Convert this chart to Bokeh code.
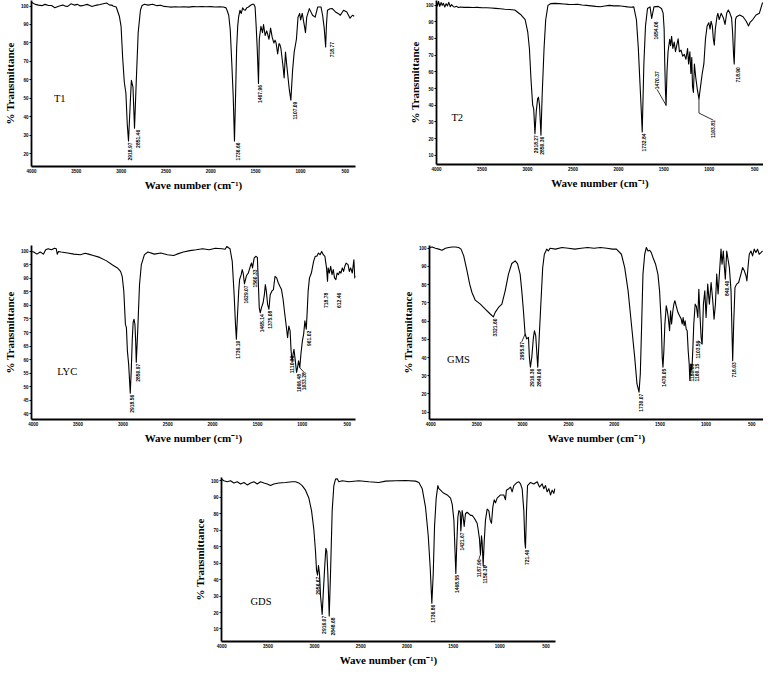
import numpy as np
from bokeh.plotting import figure
from bokeh.models import Range1d, FixedTicker, Spacer
from bokeh.layouts import row, column
from bokeh.embed import file_html
from bokeh.resources import INLINE
from bokeh.core.properties import value

# ---------------- data ----------------
X_TICKS = [4000, 3500, 3000, 2500, 2000, 1500, 1000, 500]

T1_SPECTRUM = [
    (4000, 102.1), (3957, 100.9), (3921, 100.5), (3885, 100.2), (3849, 100.9), (3810, 100.3),
    (3776, 100.3), (3740, 99.1), (3704, 99.8), (3680, 100.2), (3650, 100.5), (3620, 99.9),
    (3596, 99.8), (3560, 101.2), (3524, 100.5), (3488, 100.9), (3460, 100.1), (3434, 100.2),
    (3405, 100.6), (3380, 100.9), (3350, 100.3), (3325, 99.8), (3300, 100.2), (3271, 100.5),
    (3235, 100.8), (3199, 101.2), (3163, 101.6), (3127, 100.5), (3105, 100.6), (3091, 100),
    (3055, 99.5), (3019, 94.3), (3001, 89), (2983, 71.8), (2965, 58.8), (2947, 52.7),
    (2932, 36), (2918, 26.8), (2900, 45.8), (2886, 59.7), (2868, 56), (2851, 33.7),
    (2831, 59.7), (2810, 85.6), (2785, 97.7), (2767, 100.3), (2740, 101), (2700, 100.5),
    (2650, 101), (2600, 100.2), (2560, 100.4), (2520, 99.8), (2480, 99.6), (2440, 99.4),
    (2400, 99.6), (2350, 99.5), (2300, 99.6), (2250, 99.4), (2200, 99.7), (2150, 99.6),
    (2100, 99.7), (2050, 99.6), (2000, 99.7), (1950, 99.5), (1900, 99.6), (1860, 99.5),
    (1830, 99), (1819, 97.7), (1800, 95), (1783, 87), (1765, 68), (1750, 51), (1736, 26.8),
    (1724, 51), (1712, 77), (1700, 89), (1690, 94), (1675, 97.7), (1660, 96), (1645, 99),
    (1630, 98), (1615, 97.7), (1600, 99), (1580, 99.5), (1560, 100.3), (1535, 101),
    (1520, 101), (1506, 99.5), (1495, 90), (1483, 78), (1468, 58), (1459, 82), (1441, 89),
    (1423, 85.6), (1412, 90), (1394, 84), (1376, 86.5), (1351, 82), (1333, 88), (1315, 83),
    (1297, 80), (1283, 81.5), (1272, 80), (1254, 74), (1240, 79.5), (1232, 79.5), (1218, 77),
    (1196, 68), (1182, 61), (1167, 75), (1153, 68), (1124, 54.5), (1107, 49), (1088, 65),
    (1070, 75), (1045, 82), (1027, 94), (1009, 96), (998, 92.5), (980, 96), (955, 89),
    (944, 85.6), (930, 94), (901, 98.6), (865, 95), (836, 94), (807, 99.5), (771, 99.5),
    (753, 95), (735, 88), (719, 77.8), (710, 90), (699, 97.7), (670, 98.5), (645, 98.6),
    (609, 96.8), (580, 96), (555, 95), (519, 97.7), (483, 96.8), (447, 93.4), (420, 95),
    (400, 94.5),
]
T1_PEAK_WN = [2918, 2851, 1736, 1468, 1107, 719]
T1_PEAK_TXT = ["2918.97", "2851.46", "1736.66", "1467.96", "1107.09", "718.77"]
T1_YTICKS = [20, 30, 40, 50, 60, 70, 80, 90, 100]

T2_SPECTRUM = [
    (4000, 101.7), (3990, 99.5), (3978, 102.2), (3965, 99.2), (3950, 101.5), (3938, 99.8),
    (3925, 101), (3910, 98.8), (3895, 100.8), (3880, 99.5), (3866, 101.6), (3850, 99),
    (3835, 100.2), (3815, 99), (3800, 98.8), (3780, 99.2), (3760, 98.5), (3740, 98.8),
    (3700, 98.6), (3650, 98.7), (3600, 98.5), (3550, 98.6), (3500, 98.4), (3450, 98.4),
    (3400, 98.2), (3350, 98), (3300, 97.8), (3250, 97.5), (3200, 97.3), (3140, 97),
    (3069, 94), (3026, 91.3), (2997, 83.7), (2979, 74), (2961, 55), (2943, 40), (2932, 38),
    (2918, 23), (2904, 36), (2889, 43.8), (2879, 44.8), (2868, 40), (2852, 22), (2839, 45.7),
    (2818, 74), (2800, 91), (2775, 99.8), (2746, 100.8), (2700, 101), (2650, 100.8),
    (2600, 100.6), (2550, 100.4), (2500, 100.3), (2450, 100.5), (2400, 100), (2350, 99.8),
    (2300, 99.5), (2250, 99.2), (2200, 99), (2150, 99.4), (2100, 99.8), (2050, 99.5),
    (2000, 99.6), (1950, 99.3), (1900, 98.9), (1860, 98.7), (1831, 98.9), (1802, 91.3),
    (1781, 74.2), (1763, 53.3), (1748, 36.2), (1738, 24), (1731, 40), (1720, 64.7),
    (1702, 87.5), (1680, 97.9), (1652, 98.9), (1634, 92), (1609, 98.9), (1562, 99.2),
    (1526, 97.9), (1508, 95.1), (1497, 85.6), (1490, 64.7), (1483, 49.5), (1476, 40),
    (1465, 60.8), (1454, 72), (1436, 79.5), (1426, 75.7), (1415, 81.3), (1401, 74),
    (1386, 77.8), (1372, 72), (1358, 76), (1343, 79.8), (1329, 72), (1311, 73), (1293, 69.4),
    (1275, 70.4), (1257, 67.5), (1239, 74), (1228, 64.7), (1214, 72), (1203, 59),
    (1193, 68.5), (1185, 51.4), (1175, 47.6), (1164, 64.7), (1150, 57), (1132, 49.5),
    (1114, 43.8), (1096, 51.4), (1078, 59), (1060, 64.7), (1042, 79.8), (1024, 87.5),
    (1006, 89.4), (992, 85.6), (981, 90.3), (967, 87.5), (956, 79.8), (945, 76), (934, 85.6),
    (916, 93), (906, 95), (891, 91.3), (870, 95), (845, 92.2), (827, 88.4), (809, 95),
    (791, 97), (773, 95), (755, 92.2), (744, 83.7), (733, 70), (726, 64.7), (712, 91.3),
    (701, 93), (665, 94), (629, 93), (594, 90.3), (568, 87.5), (554, 89.4), (522, 91.3),
    (486, 94), (450, 95), (414, 101.5),
]
T2_PEAK_WN = [2918, 2852, 1738, 1634, 1476, 1114, 726]
T2_PEAK_TXT = ["2918.27", "2850.36", "1732.84", "1654.06", "1470.37", "1103.81", "718.90"]
T2_YTICKS = [10, 20, 30, 40, 50, 60, 70, 80, 90, 100]

LYC_SPECTRUM = [
    (4019, 100), (3994, 99.8), (3958, 99), (3922, 99.8), (3886, 99), (3861, 100.6),
    (3833, 101), (3797, 100.6), (3761, 101.2), (3743, 101), (3732, 99), (3718, 100),
    (3689, 99.8), (3617, 99.4), (3546, 99), (3474, 98.8), (3420, 99.3), (3384, 99),
    (3330, 98.5), (3259, 97.8), (3187, 96.6), (3115, 95), (3061, 93.9), (3026, 92.6),
    (3008, 90.8), (2990, 85.3), (2972, 73), (2961, 71.8), (2950, 63.2), (2936, 58.3),
    (2918, 47.5), (2907, 55.9), (2896, 67), (2886, 73.7), (2876, 74.9), (2866, 73),
    (2858, 67), (2851, 59), (2835, 70.6), (2815, 87.7), (2795, 95), (2760, 98.8),
    (2721, 99.8), (2649, 99), (2577, 99.4), (2505, 98.8), (2434, 98.5), (2398, 99),
    (2326, 99.8), (2254, 100.3), (2183, 100.6), (2111, 101), (2039, 100.6), (1968, 101.2),
    (1896, 101), (1860, 100.8), (1842, 101.8), (1806, 101), (1781, 96.3), (1760, 84),
    (1745, 73), (1735, 67.5), (1724, 75.5), (1709, 85.3), (1699, 89.6), (1681, 91.4),
    (1670, 93.3), (1659, 92), (1645, 88), (1623, 91), (1602, 92), (1580, 94.5), (1566, 95.7),
    (1555, 93.9), (1537, 97.5), (1519, 98.2), (1501, 97.8), (1491, 89), (1480, 79.2),
    (1469, 77.3), (1455, 79.2), (1437, 81), (1423, 84), (1412, 87.7), (1401, 85.3),
    (1387, 80.4), (1372, 78.6), (1358, 84), (1340, 85.3), (1322, 85.9), (1304, 90.8),
    (1286, 90.2), (1268, 88.4), (1250, 87.1), (1232, 85.9), (1214, 82.2), (1197, 77.3),
    (1179, 72.4), (1164, 68.1), (1150, 72.4), (1136, 70.6), (1125, 63.2), (1114, 59),
    (1103, 62), (1093, 63.8), (1078, 59.5), (1064, 55.2), (1053, 57), (1042, 59.5),
    (1028, 57), (1014, 62.5), (999, 66.9), (985, 69.4), (971, 74.3), (956, 71.2), (945, 78),
    (935, 85.3), (920, 90.2), (899, 92), (874, 96.3), (856, 98.2), (838, 98.2), (820, 99.4),
    (802, 98.8), (784, 100), (766, 98.8), (748, 98.2), (730, 93.9), (719, 89), (712, 93.9),
    (698, 92), (684, 94.5), (669, 91.4), (655, 93.3), (641, 90.2), (626, 89.6), (612, 92),
    (597, 91.4), (583, 92.6), (569, 92), (554, 93.9), (540, 92.6), (526, 94.5), (511, 95.7),
    (490, 95.1), (476, 92.6), (461, 93.9), (443, 92), (425, 96.9), (415, 90.2), (407, 91),
]
LYC_PEAK_WN = [2918, 2851, 1735, 1645, 1555, 1469, 1372, 1114, 1064, 1028, 956, 719, 626]
LYC_PEAK_TXT = ["2918.56", "2850.97", "1736.10", "1629.07", "1560.33", "1465.14", "1375.08",
                "1110.36", "1066.48", "1033.28", "961.02", "718.78", "612.46"]
LYC_YTICKS = [40, 45, 50, 55, 60, 65, 70, 75, 80, 85, 90, 95, 100]

GMS_SPECTRUM = [
    (4014, 100.4), (3985, 100.7), (3949, 100), (3913, 99.5), (3877, 98.9), (3840, 100),
    (3804, 100.4), (3768, 100.7), (3732, 100.7), (3696, 100.4), (3670, 99.5), (3641, 95.8),
    (3605, 87.6), (3576, 80.3), (3551, 75.7), (3515, 71.5), (3460, 69.3), (3406, 66.6),
    (3352, 63.9), (3318, 62.3), (3298, 64.8), (3262, 67.5), (3225, 69.3), (3189, 76.6),
    (3153, 85.8), (3117, 91.6), (3080, 93.1), (3055, 91.6), (3026, 85.8), (3008, 76.6),
    (2990, 65.7), (2972, 52.9), (2954, 50.2), (2935, 51.1), (2925, 40.1), (2914, 34.7),
    (2899, 40.1), (2881, 51.1), (2870, 54.7), (2856, 52), (2841, 40.1), (2834, 34.7),
    (2820, 49.3), (2802, 67.5), (2780, 89.4), (2762, 96.7), (2736, 99.5), (2718, 98.5),
    (2700, 100), (2640, 99.5), (2570, 100.4), (2500, 100), (2430, 99.5), (2360, 100),
    (2290, 100.4), (2220, 100), (2150, 100.4), (2080, 100), (2020, 99.5), (1976, 99.5),
    (1922, 96.7), (1886, 89.4), (1849, 76.6), (1813, 58.4), (1777, 40.1), (1752, 25.5),
    (1730, 21), (1716, 31), (1701, 58.4), (1687, 85.8), (1668, 96.7), (1650, 100.4),
    (1632, 98.5), (1614, 98.9), (1596, 97.6), (1578, 94.9), (1549, 91.2), (1524, 85.8),
    (1506, 76.6), (1487, 58.4), (1477, 40.1), (1469, 34.7), (1459, 43.8), (1448, 58.4),
    (1433, 68.4), (1422, 65.7), (1411, 62), (1397, 54.7), (1386, 65.7), (1375, 58.4),
    (1361, 65.7), (1350, 69.3), (1339, 71.2), (1325, 68.4), (1306, 64.8), (1288, 63),
    (1270, 61.1), (1259, 58.4), (1249, 62), (1238, 57.5), (1227, 60.2), (1216, 55.7),
    (1205, 54.7), (1194, 43.8), (1183, 36.5), (1176, 27.4), (1165, 36.5), (1154, 32.8),
    (1144, 43.8), (1133, 58.4), (1118, 69.3), (1104, 68), (1089, 62), (1078, 77.5),
    (1064, 62), (1053, 51), (1042, 47.4), (1028, 69.3), (1013, 76.6), (999, 62), (981, 80.3),
    (963, 69.3), (944, 81.2), (926, 71.2), (912, 61.1), (897, 69.3), (883, 85.8), (868, 74.9),
    (854, 85.8), (836, 99.5), (825, 91.2), (811, 98.5), (800, 90), (789, 83), (774, 98.5),
    (763, 94.9), (745, 89.4), (727, 76.6), (716, 52.9), (709, 38.3), (698, 58.4), (684, 78.5),
    (666, 80.3), (644, 81.2), (619, 85.8), (601, 89.4), (582, 87.6), (564, 84.9), (554, 82.1),
    (539, 91.2), (528, 96.7), (510, 98.5), (492, 95.8), (474, 99.5), (456, 97.6), (438, 99.5),
    (420, 96.7), (401, 97.6), (383, 98.5),
]
GMS_PEAK_WN = [3318, 2972, 2914, 2834, 1730, 1469, 1176, 1154, 1042, 789, 709]
GMS_PEAK_TXT = ["3321.60", "2955.87", "2916.36", "2849.06", "1730.07", "1470.05", "1180.88",
                "1160.15", "1103.56", "840.40", "718.03"]
GMS_YTICKS = [10, 20, 30, 40, 50, 60, 70, 80, 90, 100]

GDS_SPECTRUM = [
    (4003, 101), (3977, 100), (3941, 99.4), (3905, 100), (3869, 98.7), (3833, 99.4),
    (3797, 98.1), (3761, 99), (3725, 97.5), (3689, 98.7), (3653, 99.4), (3617, 98.1),
    (3581, 99.4), (3545, 98.7), (3509, 98.1), (3474, 97.1), (3438, 98.1), (3384, 98.7),
    (3312, 99), (3240, 99.4), (3204, 99.4), (3168, 98.7), (3132, 97.1), (3096, 94.3),
    (3060, 89.5), (3031, 81.9), (3006, 70.4), (2988, 57.1), (2977, 45.6), (2966, 42.7),
    (2956, 48.5), (2945, 43.7), (2934, 30.3), (2916, 18.9), (2902, 34.2), (2887, 49.4),
    (2876, 59), (2866, 57.1), (2855, 43.7), (2840, 17.9), (2826, 43.7), (2808, 81.9),
    (2790, 97.1), (2772, 101), (2754, 101.3), (2736, 99.4), (2700, 100), (2628, 99.4),
    (2520, 100), (2412, 99.4), (2304, 99), (2232, 99.8), (2124, 100), (2016, 100.2),
    (1908, 99.8), (1872, 99), (1836, 95.2), (1800, 83.8), (1771, 66.6), (1750, 47.5),
    (1732, 25.6), (1717, 43.7), (1703, 72.3), (1685, 89.5), (1667, 97.1), (1656, 95.2),
    (1638, 94.3), (1620, 93.3), (1602, 92.4), (1566, 91.4), (1530, 89.5), (1512, 85.7),
    (1494, 76.1), (1483, 59), (1473, 43.7), (1462, 62.8), (1451, 78), (1440, 81.9),
    (1426, 80.9), (1419, 69.5), (1405, 81.9), (1394, 78), (1383, 72.3), (1369, 80),
    (1351, 80.9), (1333, 80), (1315, 79), (1297, 79), (1279, 77.7), (1261, 76.1),
    (1243, 74.2), (1232, 70.4), (1218, 64.7), (1207, 55.2), (1196, 66.6), (1189, 62.8),
    (1178, 48.5), (1167, 62.8), (1153, 76.1), (1135, 82.8), (1117, 81.9), (1102, 76.1),
    (1088, 74.2), (1074, 83.8), (1059, 88.5), (1045, 86.6), (1027, 89.5), (991, 91.4),
    (955, 91.4), (937, 88.5), (927, 94.3), (901, 95.2), (883, 96.2), (865, 93.3), (847, 97.1),
    (811, 99), (793, 99.4), (775, 98.1), (757, 95.2), (739, 81.9), (728, 62.8), (721, 59),
    (710, 81.9), (699, 97.1), (667, 99), (631, 98.1), (595, 99.4), (570, 96.2), (541, 98.1),
    (523, 95.2), (505, 97.1), (487, 93.3), (469, 95.2), (451, 91.4), (433, 94.3), (415, 92.4),
    (404, 95.2),
]
GDS_PEAK_WN = [2966, 2916, 2840, 1732, 1473, 1419, 1207, 1178, 721]
GDS_PEAK_TXT = ["2956.67", "2916.07", "2848.68", "1736.86", "1468.55", "1421.67", "1187.96",
                "1150.30", "721.40"]
GDS_YTICKS = [10, 20, 30, 40, 50, 60, 70, 80, 90, 100]

# ---------------- styling / layout ----------------
SERIF = "Liberation Serif"
SANS = "Liberation Sans"

# label placement tweaks: d = (d wavenumber, d transmittance) from the peak
T1_ADJ = {"2851.46": dict(d=(-25, 0)), "1736.66": dict(d=(-25, 0)),
          "1107.09": dict(d=(-25, 0)), "718.77": dict(d=(-55, 3.5))}
T2_ADJ = {"1654.06": dict(d=(-30, -1)), "718.90": dict(d=(-20, -1)),
          "1470.37": dict(d=(99, 9.5), align="left", leader=True),
          "1103.81": dict(d=(-159, -12.8), via=(0, -8.5), leader=True)}
LYC_ADJ = {"1560.33": dict(d=(-15, 0)), "1110.36": dict(d=(15, 3)), "1066.48": dict(d=(-15, 0)),
           "1033.28": dict(d=(-45, -1.7), leader=True), "961.02": dict(d=(-10, 0)),
           "718.78": dict(d=(29, -3.7)), "612.46": dict(d=(-14, -4.3))}
GMS_ADJ = {"2955.87": dict(d=(36, -4.3), leader=True), "1180.88": dict(d=(-6, 10)),
           "1160.15": dict(d=(-36, 4.6)), "1103.56": dict(d=(47, 1.9), leader=True)}
GDS_ADJ = {"2956.67": dict(d=(8, 0)), "2848.68": dict(d=(-20, 0)),
           "1187.96": dict(d=(18, -2.9), leader=True), "1150.30": dict(d=(-25, 0), leader=True)}


def make_panel(name, spectrum, peak_wn, peak_txt, yticks, xr, yr, fw, fh, borders, name_at, adj):
    wn = np.array([s[0] for s in spectrum], dtype=float)
    tr = np.array([s[1] for s in spectrum], dtype=float)
    bl, br, bt, bb = borders
    p = figure(frame_width=fw, frame_height=fh, x_range=Range1d(*xr), y_range=Range1d(*yr),
               output_backend="svg", toolbar_location=None,
               min_border_left=bl, min_border_right=br, min_border_top=bt, min_border_bottom=bb)
    p.outline_line_color = None
    p.xgrid.visible = False
    p.ygrid.visible = False
    p.background_fill_color = "white"
    p.border_fill_color = "white"

    p.line(wn, tr, line_color="black", line_width=1.1, line_join="round")

    order = np.argsort(wn)
    for w, t in zip(peak_wn, peak_txt):
        tp = float(np.interp(w, wn[order], tr[order]))
        a = adj.get(t, {})
        dx, dy = a.get("d", (0, 0))
        ax_, ay_ = w + dx, tp + dy
        align = a.get("align", "right")
        if a.get("leader"):
            xs, ys = [w], [tp]
            if "via" in a:
                xs.append(w + a["via"][0]); ys.append(tp + a["via"][1])
            xs.append(ax_); ys.append(ay_)
            p.line(xs, ys, line_color="black", line_width=0.8)
            xo, yo = 0, 0
        else:
            xo, yo = 1.5, 1.5
        p.text(x=[ax_], y=[ay_], text=[t], angle=np.pi / 2, text_align=align,
               text_baseline="middle", text_font=value(SANS), text_font_size="5px",
               text_font_style="bold", text_color="black", x_offset=xo, y_offset=yo)

    p.text(x=[name_at[0]], y=[name_at[1]], text=[name], text_align="left",
           text_baseline="middle", text_font=value(SERIF), text_font_size="10.5px",
           text_color="black")

    xa = p.xaxis[0]
    ya = p.yaxis[0]
    xa.ticker = FixedTicker(ticks=X_TICKS)
    ya.ticker = FixedTicker(ticks=yticks)
    for a in (xa, ya):
        a.axis_line_color = "black"
        a.axis_line_width = 1.8
        a.major_tick_line_color = "black"
        a.major_tick_line_width = 1
        a.minor_tick_line_color = None
        a.major_label_text_font = SANS
        a.major_label_text_font_size = "4.5px"
        a.major_label_text_font_style = "bold"
        a.major_label_text_color = "black"
        a.axis_label_text_font = SERIF
        a.axis_label_text_font_size = "11px"
        a.axis_label_text_font_style = "bold"
        a.axis_label_text_color = "black"
    xa.major_tick_out = 0
    xa.major_tick_in = 0
    xa.major_label_standoff = 2
    xa.axis_label_standoff = 3
    ya.major_tick_out = 2
    ya.major_tick_in = 0
    ya.major_label_standoff = 1
    ya.axis_label_standoff = 2
    xa.axis_label = "Wave number (cm\u207b\u00b9)"
    ya.axis_label = "% Transmittance"
    return p


p1 = make_panel("T1", T1_SPECTRUM, T1_PEAK_WN, T1_PEAK_TXT, T1_YTICKS,
                (4000, 386), (13, 103), 324, 166, (28, 4, 0, 26), (3750, 50), T1_ADJ)
p2 = make_panel("T2", T2_SPECTRUM, T2_PEAK_WN, T2_PEAK_TXT, T2_YTICKS,
                (4001, 404), (4.5, 102.7), 327, 164, (28, 0, 0, 28), (3837, 32.5), T2_ADJ)
p3 = make_panel("LYC", LYC_SPECTRUM, LYC_PEAK_WN, LYC_PEAK_TXT, LYC_YTICKS,
                (4019, 407), (37.8, 102.2), 324, 174, (28, 4, 45, 32), (3732, 55.6), LYC_ADJ)
p4 = make_panel("GMS", GMS_SPECTRUM, GMS_PEAK_WN, GMS_PEAK_TXT, GMS_YTICKS,
                (4014, 373), (6, 101.5), 334, 174, (28, 0, 52, 25), (3822, 39.2), GMS_ADJ)
p5 = make_panel("GDS", GDS_SPECTRUM, GDS_PEAK_WN, GDS_PEAK_TXT, GDS_YTICKS,
                (4003, 397), (2.4, 102), 334, 164, (28, 4, 31, 24), (3690, 26.9), GDS_ADJ)

layout = column(
    row(p1, Spacer(width=46, height=10), p2),
    row(p3, Spacer(width=39, height=10), p4),
    row(Spacer(width=190, height=10), p5),
)

open("out.html", "w").write(file_html(layout, INLINE))
